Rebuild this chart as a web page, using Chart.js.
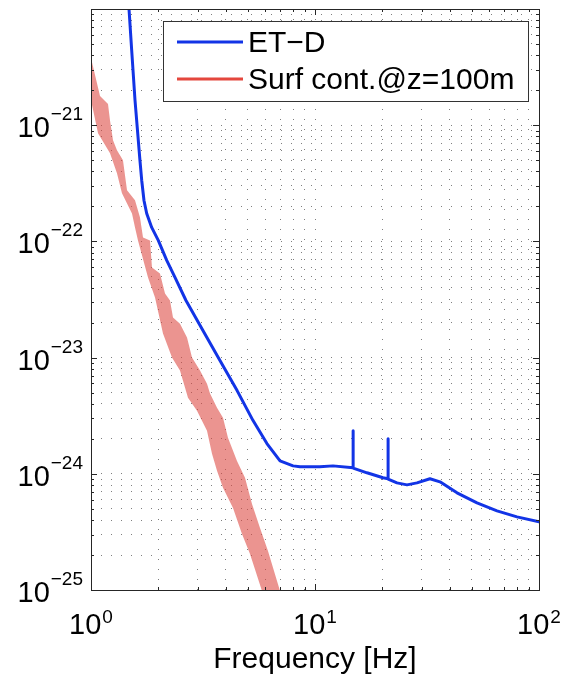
<!DOCTYPE html>
<html>
<head>
<meta charset="utf-8">
<script src="https://cdn.jsdelivr.net/npm/chart.js@4.4.1/dist/chart.umd.min.js"></script>
<style>
  html, body { margin: 0; padding: 0; background: #fff; }
  canvas { display: block; }
</style>
</head>
<body>
<canvas id="myChart" width="562" height="676"></canvas>
<script>
// ET-D sensitivity curve
const etdFreq = [1.478, 1.519, 1.572, 1.654, 1.684, 1.724, 1.773, 1.866, 1.997, 2.178, 2.371, 2.655,
  3.16, 3.77, 4.49, 5.29, 6.1, 6.98, 7.98, 8.57, 10.5, 12.03, 14.78, 14.78, 14.82, 17.06, 20.12,
  21.18, 21.18, 21.22, 23.23, 25.74, 28.52, 32.6, 36.14, 43.05, 52.87, 64.94, 79.77, 100];
const etdStrain = [1e-20, 4.44e-21, 1.64e-21, 4.99e-22, 3.36e-22, 2.25e-22, 1.74e-22, 1.32e-22, 1.02e-22,
  6.86e-23, 4.9e-23, 3.1e-23, 1.71e-23, 9.4e-24, 5.2e-24, 2.87e-24, 1.82e-24, 1.29e-24, 1.17e-24,
  1.15e-24, 1.15e-24, 1.17e-24, 1.13e-24, 2.35e-24, 1.12e-24, 1.02e-24, 9.24e-25, 9.06e-25, 2.0e-24,
  9.0e-25, 8.35e-25, 8.03e-25, 8.35e-25, 9.06e-25, 8.53e-25, 6.86e-25, 5.62e-25, 4.8e-25, 4.26e-25, 3.86e-25];

// surface contribution band, upper and lower edge
const surfUpperFreq = [1.0, 1.097, 1.191, 1.216, 1.254, 1.306, 1.389, 1.448, 1.572, 1.654, 1.707, 1.834,
  1.872, 2.032, 2.14, 2.253, 2.323, 2.496, 2.683, 2.824, 3.066, 3.295, 3.399, 3.652, 3.884, 4.088,
  4.485, 4.87, 5.234, 5.682, 6.168, 6.981, 7.3];
const surfUpperStrain = [3.78e-21, 1.78e-21, 1.52e-21, 1.1e-21, 7.43e-22, 6.08e-22, 4.99e-22, 2.75e-22,
  2.26e-22, 1.61e-22, 1.08e-22, 1.02e-22, 5.97e-23, 5.3e-23, 3.56e-23, 3.1e-23, 2.21e-23, 1.96e-23,
  1.49e-23, 1.0e-23, 7.73e-24, 5.97e-24, 4.9e-24, 3.71e-24, 3.04e-24, 2.04e-24, 1.29e-24, 9.24e-25,
  5.51e-25, 3.42e-25, 2.17e-25, 9.8e-26, 7.4e-26];
const surfLowerFreq = [1.0, 1.075, 1.216, 1.306, 1.375, 1.524, 1.572, 1.621, 1.797, 1.931, 2.096, 2.299,
  2.496, 2.71, 2.973, 3.295, 3.469, 3.652, 3.884, 4.305, 4.722, 5.127, 5.8, 7.3];
const surfLowerStrain = [1.64e-21, 8.53e-22, 5.74e-22, 3.86e-22, 2.59e-22, 1.74e-22, 1.32e-22, 1.02e-22,
  4.9e-23, 3.29e-23, 1.61e-23, 1.0e-23, 7.73e-24, 4.52e-24, 3.49e-24, 2.35e-24, 1.49e-24, 1.06e-24,
  7.57e-25, 5.09e-25, 3.04e-25, 2.04e-25, 9.8e-26, 2.5e-26];

const xDecades = [1, 10, 100];
const yDecades = [1e-25, 1e-24, 1e-23, 1e-22, 1e-21, 1e-20];
const xTickLabels = [1, 10, 100];
const yTickLabels = [1e-25, 1e-24, 1e-23, 1e-22, 1e-21];
const seriesNames = ["ET\u2212D", "Surf cont.@z=100m"];
const legendColors = ["#1234e6", "#e4473d"];
const bandColor = "rgba(220,70,64,0.58)";

const fontFamily = '"Liberation Sans", Arial, Helvetica, sans-serif';

const toPoints = (xs, ys) => xs.map((x, i) => ({ x: x, y: ys[i] }));

// log ticks at 1..9 of every decade (minor grid like matlab)
function decadeTicks(decades) {
  const out = [];
  decades.forEach((d, i) => {
    if (i === decades.length - 1) { out.push({ value: d, major: true }); return; }
    for (let m = 1; m < 10; m++) out.push({ value: d * m, major: m === 1 });
  });
  return out;
}

function expText(v) {
  const e = Math.round(Math.log10(v));
  return e < 0 ? "\u2212" + Math.abs(e) : String(e);
}

// box, inside ticks, 10^n labels and the legend
const matlabAxes = {
  id: "matlabAxes",
  afterDraw(chart) {
    const { ctx, chartArea: a, scales } = chart;
    const x = scales.x, y = scales.y;
    ctx.save();
    ctx.strokeStyle = "#262626";
    ctx.lineWidth = 1;
    ctx.beginPath();
    x.ticks.forEach(t => {
      const px = Math.round(x.getPixelForValue(t.value)) + 0.5;
      const len = t.major ? 6 : 3;
      ctx.moveTo(px, a.bottom); ctx.lineTo(px, a.bottom - len);
      ctx.moveTo(px, a.top); ctx.lineTo(px, a.top + len);
    });
    y.ticks.forEach(t => {
      const py = Math.round(y.getPixelForValue(t.value)) + 0.5;
      const len = t.major ? 6 : 3;
      ctx.moveTo(a.left, py); ctx.lineTo(a.left + len, py);
      ctx.moveTo(a.right, py); ctx.lineTo(a.right - len, py);
    });
    ctx.stroke();
    ctx.strokeRect(Math.round(a.left) + 0.5, Math.round(a.top) + 0.5,
      Math.round(a.right - a.left), Math.round(a.bottom - a.top));

    const baseFont = "29px " + fontFamily;
    const expFont = "19px " + fontFamily;
    ctx.fillStyle = "#000";
    ctx.textBaseline = "alphabetic";
    ctx.textAlign = "left";

    yTickLabels.forEach(v => {
      const py = y.getPixelForValue(v);
      const ex = expText(v);
      ctx.font = expFont;
      const wE = ctx.measureText(ex).width;
      ctx.font = baseFont;
      const wB = ctx.measureText("10").width;
      const right = a.left - 8;
      ctx.fillText("10", right - wE - wB - 1, py + 12);
      ctx.font = expFont;
      ctx.fillText(ex, right - wE, py - 5);
    });

    xTickLabels.forEach(v => {
      const px = x.getPixelForValue(v);
      const ex = expText(v);
      ctx.font = expFont;
      const wE = ctx.measureText(ex).width;
      ctx.font = baseFont;
      const wB = ctx.measureText("10").width;
      const left = px - (wB + wE + 1) / 2;
      ctx.fillText("10", left, a.bottom + 44);
      ctx.font = expFont;
      ctx.fillText(ex, left + wB + 1, a.bottom + 33);
    });

    // legend
    const bx = a.left + 72, by = a.top + 12, bw = a.right - 11 - bx, bh = 80;
    ctx.fillStyle = "#fff";
    ctx.fillRect(bx, by, bw, bh);
    ctx.strokeStyle = "#333";
    ctx.strokeRect(Math.round(bx) + 0.5, Math.round(by) + 0.5, Math.round(bw), bh);
    ctx.font = "30px " + fontFamily;
    seriesNames.forEach((name, i) => {
      const ry = by + 21 + i * 37;
      ctx.strokeStyle = legendColors[i];
      ctx.lineWidth = 3;
      ctx.beginPath();
      ctx.moveTo(bx + 14, ry); ctx.lineTo(bx + 80, ry);
      ctx.stroke();
      ctx.fillStyle = "#000";
      ctx.fillText(name, bx + 85, ry + 10);
    });
    ctx.restore();
  }
};

const config = {
  type: "line",
  data: {
    datasets: [
      {
        label: seriesNames[0],
        data: toPoints(etdFreq, etdStrain),
        borderColor: legendColors[0],
        borderWidth: 3,
        borderJoinStyle: "round",
        borderCapStyle: "round",
        pointRadius: 0,
        tension: 0,
        fill: false,
        order: 0
      },
      {
        label: seriesNames[1],
        data: toPoints(surfUpperFreq, surfUpperStrain),
        borderColor: bandColor,
        backgroundColor: bandColor,
        borderWidth: 0,
        pointRadius: 0,
        tension: 0,
        fill: "+1",
        order: 1
      },
      {
        label: "lower",
        data: toPoints(surfLowerFreq, surfLowerStrain),
        borderColor: bandColor,
        borderWidth: 0,
        pointRadius: 0,
        tension: 0,
        fill: false,
        order: 2
      }
    ]
  },
  options: {
    responsive: false,
    animation: false,
    layout: { padding: { top: 9, right: 23, left: 0, bottom: 0 } },
    plugins: { legend: { display: false }, tooltip: { enabled: false } },
    scales: {
      x: {
        type: "logarithmic",
        min: 1,
        max: 100,
        afterBuildTicks: s => { s.ticks = decadeTicks(xDecades); },
        afterFit: s => { s.height = 86; },
        ticks: { display: false },
        grid: { color: "rgba(0,0,0,0.5)", lineWidth: 1, drawTicks: false },
        border: { display: false, dash: [1, 9] },
        title: {
          display: true,
          text: "Frequency [Hz]",
          color: "#000",
          font: { family: fontFamily, size: 30, lineHeight: 1.1 },
          padding: { top: 0, bottom: 0 }
        }
      },
      y: {
        type: "logarithmic",
        min: 1e-25,
        max: 1e-20,
        afterBuildTicks: s => { s.ticks = decadeTicks(yDecades); },
        afterFit: s => { s.width = 91; },
        ticks: { display: false },
        grid: { color: "rgba(0,0,0,0.5)", lineWidth: 1, drawTicks: false },
        border: { display: false, dash: [1, 9] }
      }
    }
  },
  plugins: [matlabAxes]
};

const myChart = new Chart(document.getElementById("myChart"), config);
</script>
</body>
</html>
